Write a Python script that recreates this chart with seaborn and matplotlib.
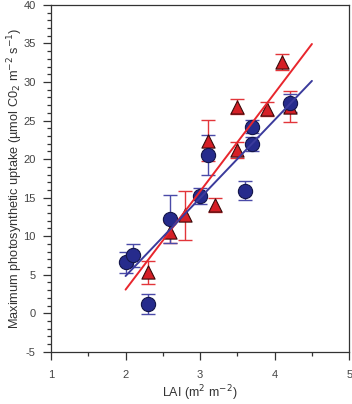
import numpy as np
import pandas as pd
import matplotlib
matplotlib.use("Agg")
import matplotlib.pyplot as plt
from matplotlib.ticker import MultipleLocator
import seaborn as sns

# blue circles
lai_blue = [2.0, 2.1, 2.3, 2.6, 3.0, 3.1, 3.6, 3.7, 3.7, 4.2]
pmax_blue = [6.6, 7.5, 1.2, 12.2, 15.2, 20.5, 15.9, 22.0, 24.2, 27.3]
err_blue = [1.35, 1.5, 1.25, 3.1, 1.0, 2.6, 1.25, 0.9, 0.85, 1.2]

# red triangles
lai_red = [2.3, 2.6, 2.8, 3.1, 3.2, 3.5, 3.5, 3.9, 4.1, 4.2]
pmax_red = [5.3, 10.5, 12.7, 22.4, 14.1, 26.8, 21.2, 26.5, 32.6, 26.8]
err_red = [1.45, 1.4, 3.2, 2.7, 0.9, 1.0, 1.0, 0.9, 1.0, 2.0]

fit_range = [2.0, 4.5]

sns.set_style("ticks")
plt.rcParams['font.family'] = ['Liberation Sans', 'DejaVu Sans']
plt.rcParams['axes.unicode_minus'] = False

blue_df = pd.DataFrame({'LAI': lai_blue, 'Pmax': pmax_blue})
red_df = pd.DataFrame({'LAI': lai_red, 'Pmax': pmax_red})

fig = plt.figure(figsize=(3.52, 4.04), dpi=100)
ax = fig.add_axes([0.145, 0.129, 0.847, 0.859])

# error bars
ax.errorbar(lai_red, pmax_red, yerr=err_red, fmt='none', ecolor='#e2353a',
            elinewidth=1.0, capsize=5, capthick=1.0, zorder=1)
ax.errorbar(lai_blue, pmax_blue, yerr=err_blue, fmt='none', ecolor='#4a4aa8',
            elinewidth=1.0, capsize=5, capthick=1.0, zorder=1)

# markers
sns.scatterplot(data=red_df, x='LAI', y='Pmax', marker='^', s=90,
                color='#d51f26', edgecolor='#3a0a0a', linewidth=0.8, ax=ax, zorder=2)
sns.scatterplot(data=blue_df, x='LAI', y='Pmax', marker='o', s=105,
                color='#262b8c', edgecolor='#14164a', linewidth=0.8, ax=ax, zorder=3)

# linear fits
xs = np.array(fit_range)
for df, col in [(red_df, '#e8262d'), (blue_df, '#3b3b9c')]:
    slope, icpt = np.polyfit(df['LAI'], df['Pmax'], 1)
    sns.lineplot(x=xs, y=slope * xs + icpt, color=col, linewidth=1.4, ax=ax, zorder=4)

ax.set_xlim(1, 5)
ax.set_ylim(-5, 40)
ax.xaxis.set_major_locator(MultipleLocator(1))
ax.xaxis.set_minor_locator(MultipleLocator(0.5))
ax.yaxis.set_major_locator(MultipleLocator(5))
ax.yaxis.set_minor_locator(MultipleLocator(1))
ax.tick_params(axis='both', which='major', length=6, width=0.9, color='#333333',
               labelsize=8, labelcolor='#444444')
ax.tick_params(axis='both', which='minor', length=3, width=0.9, color='#333333')
ax.tick_params(axis='x', which='major', pad=7)
ax.tick_params(axis='y', which='major', pad=5)
ax.tick_params(top=False, right=False, which='both')

for sp in ax.spines.values():
    sp.set_color('#333333')
    sp.set_linewidth(0.9)

ax.set_xlabel('LAI (m$^{2}$ m$^{-2}$)', fontsize=9, color='#333333', labelpad=2.5)
ax.set_ylabel('Maximum photosynthetic uptake (\u00b5mol C0$_{2}$ m$^{-2}$ s$^{-1}$)',
              fontsize=9.2, color='#333333', labelpad=-1)

plt.savefig('out.png', dpi=100)
